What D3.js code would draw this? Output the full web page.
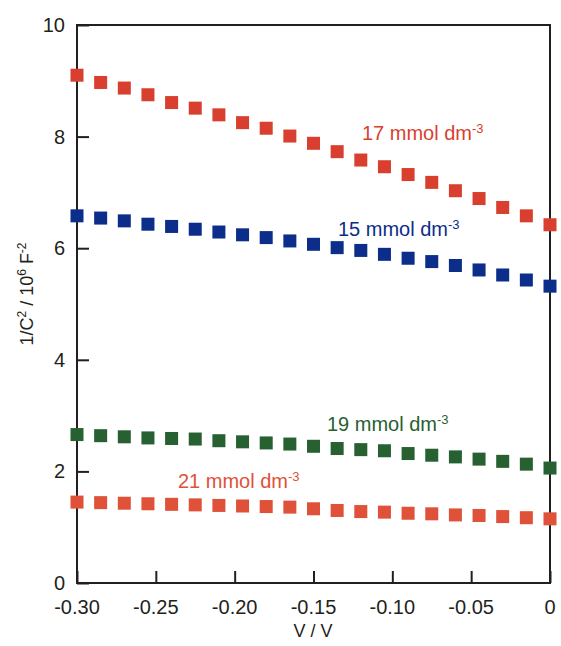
<!DOCTYPE html>
<html>
<head>
<meta charset="utf-8">
<script src="https://cdn.jsdelivr.net/npm/d3@7"></script>
<style>
  body { margin: 0; background: #fff; }
  text { font-family: "Liberation Sans", Arial, sans-serif; }
</style>
</head>
<body>
<div id="chart"></div>
<script>
"use strict";

// === DATA ===
const voltages = d3.range(21).map(i => -0.30 + i * 0.015);
const c17 = [9.10, 8.97, 8.87, 8.75, 8.61, 8.51, 8.39, 8.25, 8.15, 8.01, 7.88, 7.73, 7.58, 7.46, 7.32, 7.18, 7.03, 6.89, 6.73, 6.58, 6.42];
const c15 = [6.58, 6.54, 6.49, 6.43, 6.39, 6.34, 6.29, 6.24, 6.19, 6.13, 6.07, 6.01, 5.96, 5.89, 5.82, 5.76, 5.69, 5.61, 5.52, 5.43, 5.32];
const c19 = [2.66, 2.64, 2.62, 2.60, 2.59, 2.58, 2.55, 2.53, 2.51, 2.49, 2.45, 2.41, 2.39, 2.37, 2.32, 2.29, 2.26, 2.22, 2.18, 2.13, 2.06];
const c21 = [1.45, 1.44, 1.43, 1.42, 1.41, 1.40, 1.39, 1.38, 1.37, 1.36, 1.33, 1.30, 1.28, 1.27, 1.25, 1.24, 1.22, 1.21, 1.19, 1.17, 1.15];
const xTicks = [-0.30, -0.25, -0.20, -0.15, -0.10, -0.05, 0];
const yTicks = [0, 2, 4, 6, 8, 10];

const series = [
  { name: "17", values: c17, color: "#d83f2e", label: [362, 140] },
  { name: "15", values: c15, color: "#0c2d89", label: [338, 236] },
  { name: "19", values: c19, color: "#276031", label: [327, 431] },
  { name: "21", values: c21, color: "#df5139", label: [178, 488] }
];

// === SVG SETUP ===
const width = 561, height = 646;
const margin = { top: 25, right: 11, bottom: 63, left: 77 };

const svg = d3.select("#chart").append("svg")
  .attr("width", width)
  .attr("height", height);

const x = d3.scaleLinear().domain([-0.30, 0]).range([margin.left, width - margin.right]);
const y = d3.scaleLinear().domain([0, 10]).range([height - margin.bottom, margin.top]);

// === FRAME ===
svg.append("rect")
  .attr("x", x(-0.30))
  .attr("y", y(10))
  .attr("width", x(0) - x(-0.30))
  .attr("height", y(0) - y(10))
  .attr("fill", "none")
  .attr("stroke", "#231f20")
  .attr("stroke-width", 2);

// === AXES (ticks point inward) ===
const xAxis = svg.append("g")
  .attr("transform", `translate(0,${y(0)})`)
  .call(d3.axisTop(x).tickValues(xTicks).tickSize(12).tickFormat(""));
const yAxis = svg.append("g")
  .attr("transform", `translate(${x(-0.30)},0)`)
  .call(d3.axisRight(y).tickValues(yTicks).tickSize(12).tickFormat(""));
[xAxis, yAxis].forEach(g => {
  g.select(".domain").remove();
  g.selectAll("line").attr("stroke", "#231f20").attr("stroke-width", 2);
});

svg.selectAll(".xlab")
  .data(xTicks)
  .enter().append("text")
  .attr("x", d => x(d))
  .attr("y", y(0) + 31)
  .attr("text-anchor", "middle")
  .attr("font-size", 20)
  .attr("fill", "#231f20")
  .text(d => d === 0 ? "0" : d3.format(".2f")(d).replace("−", "-"));

svg.selectAll(".ylab")
  .data(yTicks)
  .enter().append("text")
  .attr("x", x(-0.30) - 12)
  .attr("y", d => y(d) + 7)
  .attr("text-anchor", "end")
  .attr("font-size", 20)
  .attr("fill", "#231f20")
  .text(d => d);

// === AXIS TITLES ===
svg.append("text")
  .attr("x", 313)
  .attr("y", 637)
  .attr("text-anchor", "middle")
  .attr("font-size", 18)
  .attr("fill", "#231f20")
  .text("V / V");

const yTitle = svg.append("text")
  .attr("transform", "translate(33,294) rotate(-90)")
  .attr("text-anchor", "middle")
  .attr("font-size", 18)
  .attr("fill", "#231f20");
yTitle.append("tspan").text("1/C");
yTitle.append("tspan").attr("baseline-shift", "super").attr("font-size", 12).text("2");
yTitle.append("tspan").text(" / 10");
yTitle.append("tspan").attr("baseline-shift", "super").attr("font-size", 12).text("6");
yTitle.append("tspan").text(" F");
yTitle.append("tspan").attr("baseline-shift", "super").attr("font-size", 12).text("-2");

// === MARKERS ===
const size = 13;
series.forEach(s => {
  svg.append("g").selectAll("rect")
    .data(s.values)
    .enter().append("rect")
    .attr("x", (d, i) => x(voltages[i]) - size / 2)
    .attr("y", d => y(d) - size / 2)
    .attr("width", size)
    .attr("height", size)
    .attr("fill", s.color);

  const t = svg.append("text")
    .attr("x", s.label[0])
    .attr("y", s.label[1])
    .attr("font-size", 20)
    .attr("fill", s.color);
  t.append("tspan").text(`${s.name} mmol dm`);
  t.append("tspan").attr("baseline-shift", "super").attr("font-size", 13).text("-3");
});
</script>
</body>
</html>
